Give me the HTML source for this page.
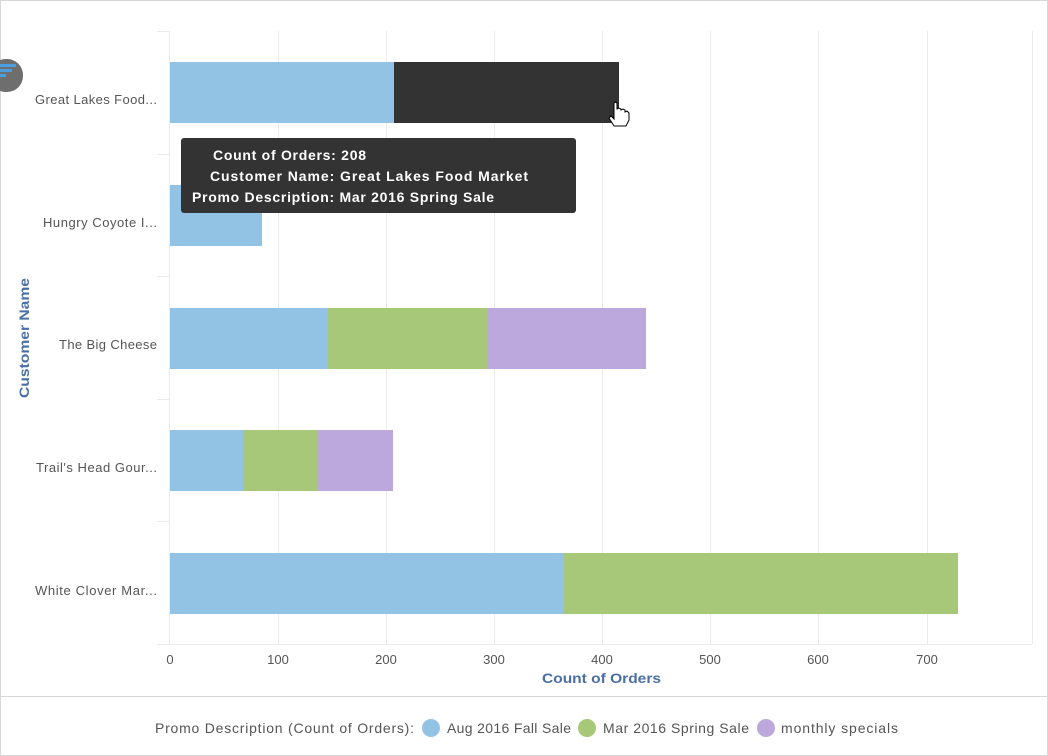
<!DOCTYPE html>
<html><head><meta charset="utf-8"><style>
html,body{margin:0;padding:0;background:#fff;}
svg{display:block;font-family:"Liberation Sans",sans-serif;}
</style></head><body>
<svg width="1048" height="756" viewBox="0 0 1048 756" xmlns="http://www.w3.org/2000/svg">
<rect x="0.5" y="0.5" width="1047" height="755" fill="#fff" stroke="#d6d6d6"/>
<line x1="0" y1="696.5" x2="1048" y2="696.5" stroke="#d6d6d6"/>
<g stroke="#ebebeb" stroke-width="1">
<line x1="278.5" y1="31" x2="278.5" y2="644"/>
<line x1="386.5" y1="31" x2="386.5" y2="644"/>
<line x1="494.5" y1="31" x2="494.5" y2="644"/>
<line x1="602.5" y1="31" x2="602.5" y2="644"/>
<line x1="710.5" y1="31" x2="710.5" y2="644"/>
<line x1="818.5" y1="31" x2="818.5" y2="644"/>
<line x1="927.5" y1="31" x2="927.5" y2="644"/>
<line x1="1032.5" y1="31" x2="1032.5" y2="644"/>
<line x1="169.5" y1="31" x2="169.5" y2="644"/>
<line x1="157" y1="644.5" x2="1032" y2="644.5"/>
<line x1="157" y1="31.5" x2="169" y2="31.5"/>
<line x1="157" y1="154.5" x2="169" y2="154.5"/>
<line x1="157" y1="276.5" x2="169" y2="276.5"/>
<line x1="157" y1="399.5" x2="169" y2="399.5"/>
<line x1="157" y1="521.5" x2="169" y2="521.5"/>
</g>
<rect x="170" y="62" width="224" height="61" fill="#92c3e5"/>
<rect x="394" y="62" width="225" height="61" fill="#333"/>
<rect x="170" y="185" width="92" height="61" fill="#92c3e5"/>
<rect x="170" y="308" width="158" height="61" fill="#92c3e5"/>
<rect x="328" y="308" width="159" height="61" fill="#a7c878"/>
<rect x="487" y="308" width="159" height="61" fill="#bca8dc"/>
<rect x="170" y="430" width="73" height="61" fill="#92c3e5"/>
<rect x="243" y="430" width="75" height="61" fill="#a7c878"/>
<rect x="318" y="430" width="75" height="61" fill="#bca8dc"/>
<rect x="170" y="553" width="394" height="61" fill="#92c3e5"/>
<rect x="564" y="553" width="394" height="61" fill="#a7c878"/>
<g font-size="13" fill="#555" text-anchor="start" lengthAdjust="spacingAndGlyphs">
<text x="35" y="104" textLength="122">Great Lakes Food...</text>
<text x="43" y="227" textLength="114">Hungry Coyote I...</text>
<text x="59" y="349" textLength="98">The Big Cheese</text>
<text x="36" y="472" textLength="121">Trail's Head Gour...</text>
<text x="35" y="595" textLength="122">White Clover Mar...</text>
</g>
<g font-size="13" fill="#555" text-anchor="middle">
<text x="170" y="664">0</text><text x="278" y="664">100</text><text x="386" y="664">200</text>
<text x="494" y="664">300</text><text x="602" y="664">400</text><text x="710" y="664">500</text>
<text x="818" y="664">600</text><text x="927" y="664">700</text>
</g>
<text x="542" y="683" font-size="14" font-weight="bold" fill="#4a6fa5" textLength="119" lengthAdjust="spacingAndGlyphs">Count of Orders</text>
<text transform="translate(29,398) rotate(-90)" font-size="14" font-weight="bold" fill="#4a6fa5" textLength="120" lengthAdjust="spacingAndGlyphs">Customer Name</text>
<rect x="-10" y="59" width="33" height="33" rx="16" fill="#6e6e6e"/>
<rect x="0" y="64" width="16" height="3" fill="#4a9fe0"/>
<rect x="0" y="69" width="12" height="3" fill="#4a9fe0"/>
<rect x="0" y="74" width="6" height="3" fill="#4a9fe0"/>
<rect x="181" y="138" width="395" height="75" rx="3" fill="#333"/>
<g font-size="14" font-weight="bold" fill="#fff" lengthAdjust="spacingAndGlyphs">
<text x="213" y="160" textLength="153">Count of Orders: 208</text>
<text x="210" y="181" textLength="318">Customer Name: Great Lakes Food Market</text>
<text x="192" y="202" textLength="302">Promo Description: Mar 2016 Spring Sale</text>
</g>
<path d="M614 103 l0 16 l-3 -3 l-2 2 l5 8 l12 0 l3 -6 l0 -7 l-2 -2 l-2 1 l0 -2 l-2 -1 l-2 1 l0 -1 l-2 -1 l-2 1 l0 -6 l-2 -1 z" fill="#fff" stroke="#000" stroke-width="1"/>
<g font-size="14" fill="#555" lengthAdjust="spacingAndGlyphs">
<text x="155" y="733" textLength="259">Promo Description (Count of Orders):</text>
<text x="447" y="733" textLength="124">Aug 2016 Fall Sale</text>
<text x="603" y="733" textLength="146">Mar 2016 Spring Sale</text>
<text x="781" y="733" textLength="117">monthly specials</text>
</g>
<circle cx="431" cy="728" r="9" fill="#92c3e5"/>
<circle cx="587" cy="728" r="9" fill="#a7c878"/>
<circle cx="766" cy="728" r="9" fill="#bca8dc"/>
</svg>
</body></html>
